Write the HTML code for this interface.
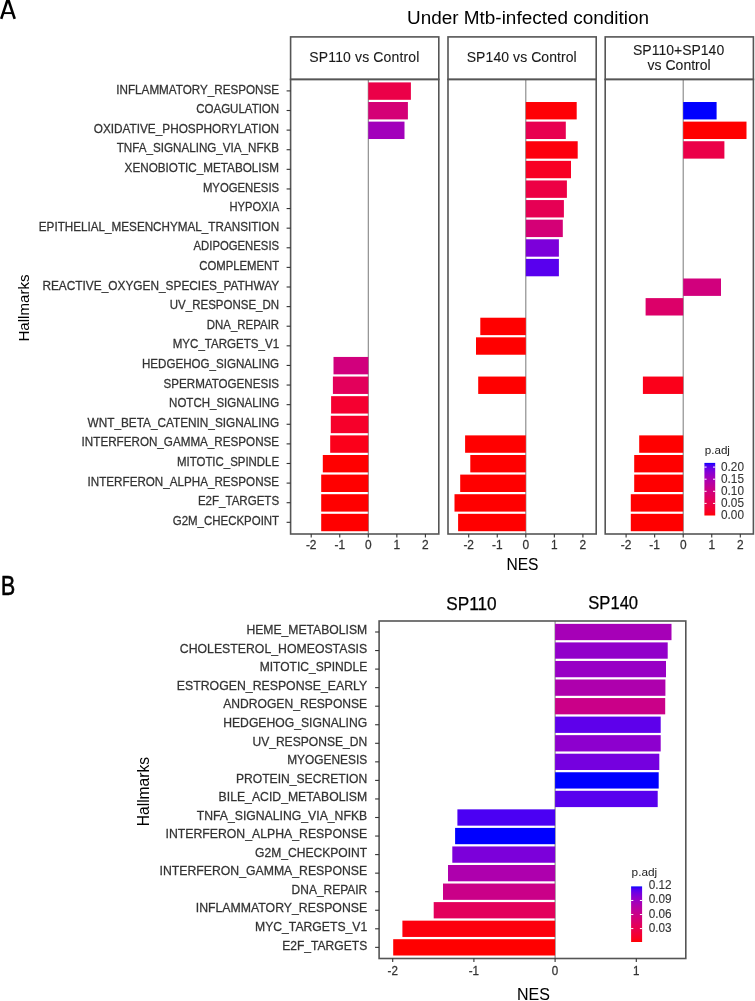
<!DOCTYPE html>
<html><head><meta charset="utf-8"><style>
html,body{margin:0;padding:0;background:#fff;width:755px;height:1001px;overflow:hidden}
svg{display:block;will-change:transform}
text{font-family:"Liberation Sans",sans-serif}
</style></head><body>
<svg width="755" height="1001" viewBox="0 0 755 1001">
<rect x="0" y="0" width="755" height="1001" fill="#fff"/>
<line x1="368.30" y1="79.40" x2="368.30" y2="534.00" stroke="#858585" stroke-width="1.1"/>
<rect x="368.30" y="82.40" width="42.60" height="17.40" fill="#eb0048"/>
<rect x="368.30" y="102.01" width="39.60" height="17.40" fill="#d40076"/>
<rect x="368.30" y="121.62" width="36.20" height="17.40" fill="#a200bb"/>
<rect x="333.50" y="356.94" width="34.80" height="17.40" fill="#d1007d"/>
<rect x="332.90" y="376.55" width="35.40" height="17.40" fill="#e3005b"/>
<rect x="331.10" y="396.16" width="37.20" height="17.40" fill="#f50030"/>
<rect x="330.80" y="415.77" width="37.50" height="17.40" fill="#f6002a"/>
<rect x="330.20" y="435.38" width="38.10" height="17.40" fill="#fb001a"/>
<rect x="322.80" y="454.99" width="45.50" height="17.40" fill="#ff0000"/>
<rect x="321.20" y="474.60" width="47.10" height="17.40" fill="#ff0000"/>
<rect x="321.20" y="494.21" width="47.10" height="17.40" fill="#ff0000"/>
<rect x="321.20" y="513.82" width="47.10" height="17.40" fill="#ff0000"/>
<rect x="290.60" y="36.90" width="148.20" height="42.50" fill="none" stroke="#555555" stroke-width="1.6"/>
<rect x="290.60" y="79.40" width="148.20" height="454.60" fill="none" stroke="#555555" stroke-width="1.6"/>
<line x1="311.20" y1="534.00" x2="311.20" y2="537.60" stroke="#333333" stroke-width="1.1"/>
<text x="0" y="0" transform="translate(311.20,549.20) scale(1,1.04)" font-size="11.9" fill="#333333" stroke="#333333" stroke-width="0.25" text-anchor="middle" >-2</text>
<line x1="339.75" y1="534.00" x2="339.75" y2="537.60" stroke="#333333" stroke-width="1.1"/>
<text x="0" y="0" transform="translate(339.75,549.20) scale(1,1.04)" font-size="11.9" fill="#333333" stroke="#333333" stroke-width="0.25" text-anchor="middle" >-1</text>
<line x1="368.30" y1="534.00" x2="368.30" y2="537.60" stroke="#333333" stroke-width="1.1"/>
<text x="0" y="0" transform="translate(368.30,549.20) scale(1,1.04)" font-size="11.9" fill="#333333" stroke="#333333" stroke-width="0.25" text-anchor="middle" >0</text>
<line x1="396.85" y1="534.00" x2="396.85" y2="537.60" stroke="#333333" stroke-width="1.1"/>
<text x="0" y="0" transform="translate(396.85,549.20) scale(1,1.04)" font-size="11.9" fill="#333333" stroke="#333333" stroke-width="0.25" text-anchor="middle" >1</text>
<line x1="425.40" y1="534.00" x2="425.40" y2="537.60" stroke="#333333" stroke-width="1.1"/>
<text x="0" y="0" transform="translate(425.40,549.20) scale(1,1.04)" font-size="11.9" fill="#333333" stroke="#333333" stroke-width="0.25" text-anchor="middle" >2</text>
<line x1="525.80" y1="79.40" x2="525.80" y2="534.00" stroke="#858585" stroke-width="1.1"/>
<rect x="525.80" y="102.01" width="50.90" height="17.40" fill="#fe0006"/>
<rect x="525.80" y="121.62" width="40.00" height="17.40" fill="#e80050"/>
<rect x="525.80" y="141.23" width="51.90" height="17.40" fill="#fd000d"/>
<rect x="525.80" y="160.84" width="45.20" height="17.40" fill="#f80024"/>
<rect x="525.80" y="180.45" width="41.10" height="17.40" fill="#ed0044"/>
<rect x="525.80" y="200.06" width="38.10" height="17.40" fill="#e60054"/>
<rect x="525.80" y="219.67" width="37.00" height="17.40" fill="#d40076"/>
<rect x="525.80" y="239.28" width="33.10" height="17.40" fill="#7c00da"/>
<rect x="525.80" y="258.89" width="33.10" height="17.40" fill="#5800ee"/>
<rect x="480.30" y="317.72" width="45.50" height="17.40" fill="#ff0000"/>
<rect x="476.00" y="337.33" width="49.80" height="17.40" fill="#ff0000"/>
<rect x="478.20" y="376.55" width="47.60" height="17.40" fill="#ff0000"/>
<rect x="465.10" y="435.38" width="60.70" height="17.40" fill="#ff0000"/>
<rect x="470.30" y="454.99" width="55.50" height="17.40" fill="#ff0000"/>
<rect x="460.20" y="474.60" width="65.60" height="17.40" fill="#ff0000"/>
<rect x="454.50" y="494.21" width="71.30" height="17.40" fill="#ff0000"/>
<rect x="458.10" y="513.82" width="67.70" height="17.40" fill="#ff0000"/>
<rect x="448.00" y="36.90" width="148.20" height="42.50" fill="none" stroke="#555555" stroke-width="1.6"/>
<rect x="448.00" y="79.40" width="148.20" height="454.60" fill="none" stroke="#555555" stroke-width="1.6"/>
<line x1="468.70" y1="534.00" x2="468.70" y2="537.60" stroke="#333333" stroke-width="1.1"/>
<text x="0" y="0" transform="translate(468.70,549.20) scale(1,1.04)" font-size="11.9" fill="#333333" stroke="#333333" stroke-width="0.25" text-anchor="middle" >-2</text>
<line x1="497.25" y1="534.00" x2="497.25" y2="537.60" stroke="#333333" stroke-width="1.1"/>
<text x="0" y="0" transform="translate(497.25,549.20) scale(1,1.04)" font-size="11.9" fill="#333333" stroke="#333333" stroke-width="0.25" text-anchor="middle" >-1</text>
<line x1="525.80" y1="534.00" x2="525.80" y2="537.60" stroke="#333333" stroke-width="1.1"/>
<text x="0" y="0" transform="translate(525.80,549.20) scale(1,1.04)" font-size="11.9" fill="#333333" stroke="#333333" stroke-width="0.25" text-anchor="middle" >0</text>
<line x1="554.35" y1="534.00" x2="554.35" y2="537.60" stroke="#333333" stroke-width="1.1"/>
<text x="0" y="0" transform="translate(554.35,549.20) scale(1,1.04)" font-size="11.9" fill="#333333" stroke="#333333" stroke-width="0.25" text-anchor="middle" >1</text>
<line x1="582.90" y1="534.00" x2="582.90" y2="537.60" stroke="#333333" stroke-width="1.1"/>
<text x="0" y="0" transform="translate(582.90,549.20) scale(1,1.04)" font-size="11.9" fill="#333333" stroke="#333333" stroke-width="0.25" text-anchor="middle" >2</text>
<line x1="683.20" y1="79.40" x2="683.20" y2="534.00" stroke="#858585" stroke-width="1.1"/>
<rect x="683.20" y="102.01" width="33.40" height="17.40" fill="#0000ff"/>
<rect x="683.20" y="121.62" width="63.30" height="17.40" fill="#ff0000"/>
<rect x="683.20" y="141.23" width="41.20" height="17.40" fill="#eb0048"/>
<rect x="683.20" y="278.50" width="37.80" height="17.40" fill="#d1007d"/>
<rect x="645.60" y="298.11" width="37.60" height="17.40" fill="#dc0069"/>
<rect x="642.90" y="376.55" width="40.30" height="17.40" fill="#fb001a"/>
<rect x="639.20" y="435.38" width="44.00" height="17.40" fill="#ff0000"/>
<rect x="634.20" y="454.99" width="49.00" height="17.40" fill="#ff0000"/>
<rect x="634.20" y="474.60" width="49.00" height="17.40" fill="#ff0000"/>
<rect x="630.80" y="494.21" width="52.40" height="17.40" fill="#ff0000"/>
<rect x="630.80" y="513.82" width="52.40" height="17.40" fill="#ff0000"/>
<rect x="605.20" y="36.90" width="148.20" height="42.50" fill="none" stroke="#555555" stroke-width="1.6"/>
<rect x="605.20" y="79.40" width="148.20" height="454.60" fill="none" stroke="#555555" stroke-width="1.6"/>
<line x1="626.10" y1="534.00" x2="626.10" y2="537.60" stroke="#333333" stroke-width="1.1"/>
<text x="0" y="0" transform="translate(626.10,549.20) scale(1,1.04)" font-size="11.9" fill="#333333" stroke="#333333" stroke-width="0.25" text-anchor="middle" >-2</text>
<line x1="654.65" y1="534.00" x2="654.65" y2="537.60" stroke="#333333" stroke-width="1.1"/>
<text x="0" y="0" transform="translate(654.65,549.20) scale(1,1.04)" font-size="11.9" fill="#333333" stroke="#333333" stroke-width="0.25" text-anchor="middle" >-1</text>
<line x1="683.20" y1="534.00" x2="683.20" y2="537.60" stroke="#333333" stroke-width="1.1"/>
<text x="0" y="0" transform="translate(683.20,549.20) scale(1,1.04)" font-size="11.9" fill="#333333" stroke="#333333" stroke-width="0.25" text-anchor="middle" >0</text>
<line x1="711.75" y1="534.00" x2="711.75" y2="537.60" stroke="#333333" stroke-width="1.1"/>
<text x="0" y="0" transform="translate(711.75,549.20) scale(1,1.04)" font-size="11.9" fill="#333333" stroke="#333333" stroke-width="0.25" text-anchor="middle" >1</text>
<line x1="740.30" y1="534.00" x2="740.30" y2="537.60" stroke="#333333" stroke-width="1.1"/>
<text x="0" y="0" transform="translate(740.30,549.20) scale(1,1.04)" font-size="11.9" fill="#333333" stroke="#333333" stroke-width="0.25" text-anchor="middle" >2</text>
<text x="0" y="0" transform="translate(364.30,61.60) scale(1,1.05)" font-size="14.0" fill="#1a1a1a" stroke="#1a1a1a" stroke-width="0.1" text-anchor="middle" textLength="110" lengthAdjust="spacing">SP110 vs Control</text>
<text x="0" y="0" transform="translate(521.70,61.60) scale(1,1.05)" font-size="14.0" fill="#1a1a1a" stroke="#1a1a1a" stroke-width="0.1" text-anchor="middle" textLength="110" lengthAdjust="spacing">SP140 vs Control</text>
<text x="0" y="0" transform="translate(678.60,54.90) scale(1,1.05)" font-size="14.0" fill="#1a1a1a" stroke="#1a1a1a" stroke-width="0.1" text-anchor="middle" >SP110+SP140</text>
<text x="0" y="0" transform="translate(679.10,69.70) scale(1,1.05)" font-size="14.0" fill="#1a1a1a" stroke="#1a1a1a" stroke-width="0.1" text-anchor="middle" >vs Control</text>
<line x1="286.60" y1="90.90" x2="290.60" y2="90.90" stroke="#333333" stroke-width="1.1"/>
<text x="0" y="0" transform="translate(279.10,93.50) scale(1,1.05)" font-size="11.63" fill="#333333" stroke="#333333" stroke-width="0.25" text-anchor="end" textLength="162.80" lengthAdjust="spacingAndGlyphs">INFLAMMATORY_RESPONSE</text>
<line x1="286.60" y1="110.51" x2="290.60" y2="110.51" stroke="#333333" stroke-width="1.1"/>
<text x="0" y="0" transform="translate(279.10,113.11) scale(1,1.05)" font-size="11.63" fill="#333333" stroke="#333333" stroke-width="0.25" text-anchor="end" textLength="82.90" lengthAdjust="spacingAndGlyphs">COAGULATION</text>
<line x1="286.60" y1="130.12" x2="290.60" y2="130.12" stroke="#333333" stroke-width="1.1"/>
<text x="0" y="0" transform="translate(279.10,132.72) scale(1,1.05)" font-size="11.63" fill="#333333" stroke="#333333" stroke-width="0.25" text-anchor="end" textLength="185.40" lengthAdjust="spacingAndGlyphs">OXIDATIVE_PHOSPHORYLATION</text>
<line x1="286.60" y1="149.73" x2="290.60" y2="149.73" stroke="#333333" stroke-width="1.1"/>
<text x="0" y="0" transform="translate(279.10,152.33) scale(1,1.05)" font-size="11.63" fill="#333333" stroke="#333333" stroke-width="0.25" text-anchor="end" textLength="162.40" lengthAdjust="spacingAndGlyphs">TNFA_SIGNALING_VIA_NFKB</text>
<line x1="286.60" y1="169.34" x2="290.60" y2="169.34" stroke="#333333" stroke-width="1.1"/>
<text x="0" y="0" transform="translate(279.10,171.94) scale(1,1.05)" font-size="11.63" fill="#333333" stroke="#333333" stroke-width="0.25" text-anchor="end" textLength="154.50" lengthAdjust="spacingAndGlyphs">XENOBIOTIC_METABOLISM</text>
<line x1="286.60" y1="188.95" x2="290.60" y2="188.95" stroke="#333333" stroke-width="1.1"/>
<text x="0" y="0" transform="translate(279.10,191.55) scale(1,1.05)" font-size="11.63" fill="#333333" stroke="#333333" stroke-width="0.25" text-anchor="end" textLength="76.20" lengthAdjust="spacingAndGlyphs">MYOGENESIS</text>
<line x1="286.60" y1="208.56" x2="290.60" y2="208.56" stroke="#333333" stroke-width="1.1"/>
<text x="0" y="0" transform="translate(279.10,211.16) scale(1,1.05)" font-size="11.63" fill="#333333" stroke="#333333" stroke-width="0.25" text-anchor="end" textLength="49.64" lengthAdjust="spacingAndGlyphs">HYPOXIA</text>
<line x1="286.60" y1="228.17" x2="290.60" y2="228.17" stroke="#333333" stroke-width="1.1"/>
<text x="0" y="0" transform="translate(279.10,230.77) scale(1,1.05)" font-size="11.63" fill="#333333" stroke="#333333" stroke-width="0.25" text-anchor="end" textLength="240.30" lengthAdjust="spacingAndGlyphs">EPITHELIAL_MESENCHYMAL_TRANSITION</text>
<line x1="286.60" y1="247.78" x2="290.60" y2="247.78" stroke="#333333" stroke-width="1.1"/>
<text x="0" y="0" transform="translate(279.10,250.38) scale(1,1.05)" font-size="11.63" fill="#333333" stroke="#333333" stroke-width="0.25" text-anchor="end" textLength="85.60" lengthAdjust="spacingAndGlyphs">ADIPOGENESIS</text>
<line x1="286.60" y1="267.39" x2="290.60" y2="267.39" stroke="#333333" stroke-width="1.1"/>
<text x="0" y="0" transform="translate(279.10,269.99) scale(1,1.05)" font-size="11.63" fill="#333333" stroke="#333333" stroke-width="0.25" text-anchor="end" textLength="79.90" lengthAdjust="spacingAndGlyphs">COMPLEMENT</text>
<line x1="286.60" y1="287.00" x2="290.60" y2="287.00" stroke="#333333" stroke-width="1.1"/>
<text x="0" y="0" transform="translate(279.10,289.60) scale(1,1.05)" font-size="11.63" fill="#333333" stroke="#333333" stroke-width="0.25" text-anchor="end" textLength="236.70" lengthAdjust="spacingAndGlyphs">REACTIVE_OXYGEN_SPECIES_PATHWAY</text>
<line x1="286.60" y1="306.61" x2="290.60" y2="306.61" stroke="#333333" stroke-width="1.1"/>
<text x="0" y="0" transform="translate(279.10,309.21) scale(1,1.05)" font-size="11.63" fill="#333333" stroke="#333333" stroke-width="0.25" text-anchor="end" textLength="109.30" lengthAdjust="spacingAndGlyphs">UV_RESPONSE_DN</text>
<line x1="286.60" y1="326.22" x2="290.60" y2="326.22" stroke="#333333" stroke-width="1.1"/>
<text x="0" y="0" transform="translate(279.10,328.82) scale(1,1.05)" font-size="11.63" fill="#333333" stroke="#333333" stroke-width="0.25" text-anchor="end" textLength="72.30" lengthAdjust="spacingAndGlyphs">DNA_REPAIR</text>
<line x1="286.60" y1="345.83" x2="290.60" y2="345.83" stroke="#333333" stroke-width="1.1"/>
<text x="0" y="0" transform="translate(279.10,348.43) scale(1,1.05)" font-size="11.63" fill="#333333" stroke="#333333" stroke-width="0.25" text-anchor="end" textLength="106.40" lengthAdjust="spacingAndGlyphs">MYC_TARGETS_V1</text>
<line x1="286.60" y1="365.44" x2="290.60" y2="365.44" stroke="#333333" stroke-width="1.1"/>
<text x="0" y="0" transform="translate(279.10,368.04) scale(1,1.05)" font-size="11.63" fill="#333333" stroke="#333333" stroke-width="0.25" text-anchor="end" textLength="137.10" lengthAdjust="spacingAndGlyphs">HEDGEHOG_SIGNALING</text>
<line x1="286.60" y1="385.05" x2="290.60" y2="385.05" stroke="#333333" stroke-width="1.1"/>
<text x="0" y="0" transform="translate(279.10,387.65) scale(1,1.05)" font-size="11.63" fill="#333333" stroke="#333333" stroke-width="0.25" text-anchor="end" textLength="115.50" lengthAdjust="spacingAndGlyphs">SPERMATOGENESIS</text>
<line x1="286.60" y1="404.66" x2="290.60" y2="404.66" stroke="#333333" stroke-width="1.1"/>
<text x="0" y="0" transform="translate(279.10,407.26) scale(1,1.05)" font-size="11.63" fill="#333333" stroke="#333333" stroke-width="0.25" text-anchor="end" textLength="110.00" lengthAdjust="spacingAndGlyphs">NOTCH_SIGNALING</text>
<line x1="286.60" y1="424.27" x2="290.60" y2="424.27" stroke="#333333" stroke-width="1.1"/>
<text x="0" y="0" transform="translate(279.10,426.87) scale(1,1.05)" font-size="11.63" fill="#333333" stroke="#333333" stroke-width="0.25" text-anchor="end" textLength="191.50" lengthAdjust="spacingAndGlyphs">WNT_BETA_CATENIN_SIGNALING</text>
<line x1="286.60" y1="443.88" x2="290.60" y2="443.88" stroke="#333333" stroke-width="1.1"/>
<text x="0" y="0" transform="translate(279.10,446.48) scale(1,1.05)" font-size="11.63" fill="#333333" stroke="#333333" stroke-width="0.25" text-anchor="end" textLength="197.50" lengthAdjust="spacingAndGlyphs">INTERFERON_GAMMA_RESPONSE</text>
<line x1="286.60" y1="463.49" x2="290.60" y2="463.49" stroke="#333333" stroke-width="1.1"/>
<text x="0" y="0" transform="translate(279.10,466.09) scale(1,1.05)" font-size="11.63" fill="#333333" stroke="#333333" stroke-width="0.25" text-anchor="end" textLength="102.10" lengthAdjust="spacingAndGlyphs">MITOTIC_SPINDLE</text>
<line x1="286.60" y1="483.10" x2="290.60" y2="483.10" stroke="#333333" stroke-width="1.1"/>
<text x="0" y="0" transform="translate(279.10,485.70) scale(1,1.05)" font-size="11.63" fill="#333333" stroke="#333333" stroke-width="0.25" text-anchor="end" textLength="191.50" lengthAdjust="spacingAndGlyphs">INTERFERON_ALPHA_RESPONSE</text>
<line x1="286.60" y1="502.71" x2="290.60" y2="502.71" stroke="#333333" stroke-width="1.1"/>
<text x="0" y="0" transform="translate(279.10,505.31) scale(1,1.05)" font-size="11.63" fill="#333333" stroke="#333333" stroke-width="0.25" text-anchor="end" textLength="81.20" lengthAdjust="spacingAndGlyphs">E2F_TARGETS</text>
<line x1="286.60" y1="522.32" x2="290.60" y2="522.32" stroke="#333333" stroke-width="1.1"/>
<text x="0" y="0" transform="translate(279.10,524.92) scale(1,1.05)" font-size="11.63" fill="#333333" stroke="#333333" stroke-width="0.25" text-anchor="end" textLength="106.40" lengthAdjust="spacingAndGlyphs">G2M_CHECKPOINT</text>
<text x="0" y="0" transform="translate(522.50,569.80) scale(1,1.04)" font-size="15.6" fill="#000" stroke="#000" stroke-width="0.05" text-anchor="middle" >NES</text>
<text x="0" y="0" font-size="15.1" fill="#000" text-anchor="middle" transform="translate(28.8,308) rotate(-90)">Hallmarks</text>
<text x="407.00" y="23.80" font-size="18.7" fill="#000" text-anchor="start" textLength="242" lengthAdjust="spacingAndGlyphs">Under Mtb-infected condition</text>
<g stroke="#000" fill="none"><line x1="1.2" y1="18.9" x2="7.9" y2="-1.2" stroke-width="2.6"/><line x1="14.7" y1="18.9" x2="8.0" y2="-1.2" stroke-width="2.6"/><line x1="3.4" y1="13.1" x2="12.5" y2="13.1" stroke-width="1.9"/></g>
<defs><linearGradient id="gA" x1="0" y1="1" x2="0" y2="0"><stop offset="0.000" stop-color="#ff0000"/><stop offset="0.025" stop-color="#fd000f"/><stop offset="0.050" stop-color="#fb001a"/><stop offset="0.075" stop-color="#f90023"/><stop offset="0.100" stop-color="#f6002a"/><stop offset="0.125" stop-color="#f40031"/><stop offset="0.150" stop-color="#f20037"/><stop offset="0.175" stop-color="#ef003e"/><stop offset="0.200" stop-color="#ed0044"/><stop offset="0.225" stop-color="#eb004a"/><stop offset="0.250" stop-color="#e80050"/><stop offset="0.275" stop-color="#e50055"/><stop offset="0.300" stop-color="#e3005b"/><stop offset="0.325" stop-color="#e00061"/><stop offset="0.350" stop-color="#dd0066"/><stop offset="0.375" stop-color="#da006c"/><stop offset="0.400" stop-color="#d70072"/><stop offset="0.425" stop-color="#d40077"/><stop offset="0.450" stop-color="#d1007d"/><stop offset="0.475" stop-color="#cd0083"/><stop offset="0.500" stop-color="#ca0088"/><stop offset="0.525" stop-color="#c6008e"/><stop offset="0.550" stop-color="#c20094"/><stop offset="0.575" stop-color="#be009a"/><stop offset="0.600" stop-color="#ba009f"/><stop offset="0.625" stop-color="#b500a5"/><stop offset="0.650" stop-color="#b000ab"/><stop offset="0.675" stop-color="#ab00b1"/><stop offset="0.700" stop-color="#a600b7"/><stop offset="0.725" stop-color="#a000bd"/><stop offset="0.750" stop-color="#9a00c3"/><stop offset="0.775" stop-color="#9400c8"/><stop offset="0.800" stop-color="#8d00ce"/><stop offset="0.825" stop-color="#8500d4"/><stop offset="0.850" stop-color="#7c00da"/><stop offset="0.875" stop-color="#7300e0"/><stop offset="0.900" stop-color="#6800e7"/><stop offset="0.925" stop-color="#5b00ed"/><stop offset="0.950" stop-color="#4b00f3"/><stop offset="0.975" stop-color="#3500f9"/><stop offset="1.000" stop-color="#0000ff"/></linearGradient></defs>
<rect x="704.4" y="462.9" width="10.8" height="52.60" fill="url(#gA)"/>
<text x="0" y="0" transform="translate(721.00,519.10) scale(1,1.08)" font-size="11.8" fill="#333333" stroke="#333333" stroke-width="0.1" text-anchor="start" >0.00</text>
<line x1="704.40" y1="503.40" x2="706.60" y2="503.40" stroke="#ffffff" stroke-width="1"/>
<line x1="713.00" y1="503.40" x2="715.20" y2="503.40" stroke="#ffffff" stroke-width="1"/>
<text x="0" y="0" transform="translate(721.00,507.00) scale(1,1.08)" font-size="11.8" fill="#333333" stroke="#333333" stroke-width="0.1" text-anchor="start" >0.05</text>
<line x1="704.40" y1="491.30" x2="706.60" y2="491.30" stroke="#ffffff" stroke-width="1"/>
<line x1="713.00" y1="491.30" x2="715.20" y2="491.30" stroke="#ffffff" stroke-width="1"/>
<text x="0" y="0" transform="translate(721.00,494.90) scale(1,1.08)" font-size="11.8" fill="#333333" stroke="#333333" stroke-width="0.1" text-anchor="start" >0.10</text>
<line x1="704.40" y1="479.20" x2="706.60" y2="479.20" stroke="#ffffff" stroke-width="1"/>
<line x1="713.00" y1="479.20" x2="715.20" y2="479.20" stroke="#ffffff" stroke-width="1"/>
<text x="0" y="0" transform="translate(721.00,482.80) scale(1,1.08)" font-size="11.8" fill="#333333" stroke="#333333" stroke-width="0.1" text-anchor="start" >0.15</text>
<line x1="704.40" y1="467.10" x2="706.60" y2="467.10" stroke="#ffffff" stroke-width="1"/>
<line x1="713.00" y1="467.10" x2="715.20" y2="467.10" stroke="#ffffff" stroke-width="1"/>
<text x="0" y="0" transform="translate(721.00,470.70) scale(1,1.08)" font-size="11.8" fill="#333333" stroke="#333333" stroke-width="0.1" text-anchor="start" >0.20</text>
<text x="704.80" y="454.00" font-size="11.6" fill="#222" text-anchor="start" >p.adj</text>
<line x1="555.10" y1="621.00" x2="555.10" y2="958.50" stroke="#858585" stroke-width="1.1"/>
<rect x="555.10" y="623.85" width="116.40" height="16.30" fill="#a600b7"/>
<rect x="555.10" y="642.40" width="112.60" height="16.30" fill="#9200ca"/>
<rect x="555.10" y="660.95" width="110.90" height="16.30" fill="#9800c5"/>
<rect x="555.10" y="679.50" width="110.30" height="16.30" fill="#ae00ad"/>
<rect x="555.10" y="698.05" width="110.10" height="16.30" fill="#ca0088"/>
<rect x="555.10" y="716.60" width="105.60" height="16.30" fill="#5e00eb"/>
<rect x="555.10" y="735.15" width="105.60" height="16.30" fill="#8d00ce"/>
<rect x="555.10" y="753.70" width="104.20" height="16.30" fill="#7500df"/>
<rect x="555.10" y="772.25" width="103.60" height="16.30" fill="#0000ff"/>
<rect x="555.10" y="790.80" width="102.60" height="16.30" fill="#5800ee"/>
<rect x="457.40" y="809.35" width="97.70" height="16.30" fill="#4b00f3"/>
<rect x="455.10" y="827.90" width="100.00" height="16.30" fill="#0000ff"/>
<rect x="452.30" y="846.45" width="102.80" height="16.30" fill="#7c00da"/>
<rect x="448.00" y="865.00" width="107.10" height="16.30" fill="#ae00ad"/>
<rect x="443.00" y="883.55" width="112.10" height="16.30" fill="#ca0088"/>
<rect x="433.70" y="902.10" width="121.40" height="16.30" fill="#e3005b"/>
<rect x="402.40" y="920.65" width="152.70" height="16.30" fill="#fd000d"/>
<rect x="393.20" y="939.20" width="161.90" height="16.30" fill="#ff0000"/>
<rect x="379.10" y="621.00" width="306.70" height="337.50" fill="none" stroke="#555555" stroke-width="1.6"/>
<line x1="375.10" y1="632.00" x2="379.10" y2="632.00" stroke="#333333" stroke-width="1.1"/>
<text x="0" y="0" transform="translate(367.20,634.20) scale(1,1.05)" font-size="12.2" fill="#333333" stroke="#333333" stroke-width="0.25" text-anchor="end" textLength="120.80" lengthAdjust="spacingAndGlyphs">HEME_METABOLISM</text>
<line x1="375.10" y1="650.55" x2="379.10" y2="650.55" stroke="#333333" stroke-width="1.1"/>
<text x="0" y="0" transform="translate(367.20,652.75) scale(1,1.05)" font-size="12.2" fill="#333333" stroke="#333333" stroke-width="0.25" text-anchor="end" textLength="187.40" lengthAdjust="spacingAndGlyphs">CHOLESTEROL_HOMEOSTASIS</text>
<line x1="375.10" y1="669.10" x2="379.10" y2="669.10" stroke="#333333" stroke-width="1.1"/>
<text x="0" y="0" transform="translate(367.20,671.30) scale(1,1.05)" font-size="12.2" fill="#333333" stroke="#333333" stroke-width="0.25" text-anchor="end" textLength="107.50" lengthAdjust="spacingAndGlyphs">MITOTIC_SPINDLE</text>
<line x1="375.10" y1="687.65" x2="379.10" y2="687.65" stroke="#333333" stroke-width="1.1"/>
<text x="0" y="0" transform="translate(367.20,689.85) scale(1,1.05)" font-size="12.2" fill="#333333" stroke="#333333" stroke-width="0.25" text-anchor="end" textLength="190.40" lengthAdjust="spacingAndGlyphs">ESTROGEN_RESPONSE_EARLY</text>
<line x1="375.10" y1="706.20" x2="379.10" y2="706.20" stroke="#333333" stroke-width="1.1"/>
<text x="0" y="0" transform="translate(367.20,708.40) scale(1,1.05)" font-size="12.2" fill="#333333" stroke="#333333" stroke-width="0.25" text-anchor="end" textLength="144.00" lengthAdjust="spacingAndGlyphs">ANDROGEN_RESPONSE</text>
<line x1="375.10" y1="724.75" x2="379.10" y2="724.75" stroke="#333333" stroke-width="1.1"/>
<text x="0" y="0" transform="translate(367.20,726.95) scale(1,1.05)" font-size="12.2" fill="#333333" stroke="#333333" stroke-width="0.25" text-anchor="end" textLength="144.00" lengthAdjust="spacingAndGlyphs">HEDGEHOG_SIGNALING</text>
<line x1="375.10" y1="743.30" x2="379.10" y2="743.30" stroke="#333333" stroke-width="1.1"/>
<text x="0" y="0" transform="translate(367.20,745.50) scale(1,1.05)" font-size="12.2" fill="#333333" stroke="#333333" stroke-width="0.25" text-anchor="end" textLength="114.80" lengthAdjust="spacingAndGlyphs">UV_RESPONSE_DN</text>
<line x1="375.10" y1="761.85" x2="379.10" y2="761.85" stroke="#333333" stroke-width="1.1"/>
<text x="0" y="0" transform="translate(367.20,764.05) scale(1,1.05)" font-size="12.2" fill="#333333" stroke="#333333" stroke-width="0.25" text-anchor="end" textLength="80.00" lengthAdjust="spacingAndGlyphs">MYOGENESIS</text>
<line x1="375.10" y1="780.40" x2="379.10" y2="780.40" stroke="#333333" stroke-width="1.1"/>
<text x="0" y="0" transform="translate(367.20,782.60) scale(1,1.05)" font-size="12.2" fill="#333333" stroke="#333333" stroke-width="0.25" text-anchor="end" textLength="131.30" lengthAdjust="spacingAndGlyphs">PROTEIN_SECRETION</text>
<line x1="375.10" y1="798.95" x2="379.10" y2="798.95" stroke="#333333" stroke-width="1.1"/>
<text x="0" y="0" transform="translate(367.20,801.15) scale(1,1.05)" font-size="12.2" fill="#333333" stroke="#333333" stroke-width="0.25" text-anchor="end" textLength="148.60" lengthAdjust="spacingAndGlyphs">BILE_ACID_METABOLISM</text>
<line x1="375.10" y1="817.50" x2="379.10" y2="817.50" stroke="#333333" stroke-width="1.1"/>
<text x="0" y="0" transform="translate(367.20,819.70) scale(1,1.05)" font-size="12.2" fill="#333333" stroke="#333333" stroke-width="0.25" text-anchor="end" textLength="170.50" lengthAdjust="spacingAndGlyphs">TNFA_SIGNALING_VIA_NFKB</text>
<line x1="375.10" y1="836.05" x2="379.10" y2="836.05" stroke="#333333" stroke-width="1.1"/>
<text x="0" y="0" transform="translate(367.20,838.25) scale(1,1.05)" font-size="12.2" fill="#333333" stroke="#333333" stroke-width="0.25" text-anchor="end" textLength="201.70" lengthAdjust="spacingAndGlyphs">INTERFERON_ALPHA_RESPONSE</text>
<line x1="375.10" y1="854.60" x2="379.10" y2="854.60" stroke="#333333" stroke-width="1.1"/>
<text x="0" y="0" transform="translate(367.20,856.80) scale(1,1.05)" font-size="12.2" fill="#333333" stroke="#333333" stroke-width="0.25" text-anchor="end" textLength="112.20" lengthAdjust="spacingAndGlyphs">G2M_CHECKPOINT</text>
<line x1="375.10" y1="873.15" x2="379.10" y2="873.15" stroke="#333333" stroke-width="1.1"/>
<text x="0" y="0" transform="translate(367.20,875.35) scale(1,1.05)" font-size="12.2" fill="#333333" stroke="#333333" stroke-width="0.25" text-anchor="end" textLength="207.70" lengthAdjust="spacingAndGlyphs">INTERFERON_GAMMA_RESPONSE</text>
<line x1="375.10" y1="891.70" x2="379.10" y2="891.70" stroke="#333333" stroke-width="1.1"/>
<text x="0" y="0" transform="translate(367.20,893.90) scale(1,1.05)" font-size="12.2" fill="#333333" stroke="#333333" stroke-width="0.25" text-anchor="end" textLength="75.60" lengthAdjust="spacingAndGlyphs">DNA_REPAIR</text>
<line x1="375.10" y1="910.25" x2="379.10" y2="910.25" stroke="#333333" stroke-width="1.1"/>
<text x="0" y="0" transform="translate(367.20,912.45) scale(1,1.05)" font-size="12.2" fill="#333333" stroke="#333333" stroke-width="0.25" text-anchor="end" textLength="171.50" lengthAdjust="spacingAndGlyphs">INFLAMMATORY_RESPONSE</text>
<line x1="375.10" y1="928.80" x2="379.10" y2="928.80" stroke="#333333" stroke-width="1.1"/>
<text x="0" y="0" transform="translate(367.20,931.00) scale(1,1.05)" font-size="12.2" fill="#333333" stroke="#333333" stroke-width="0.25" text-anchor="end" textLength="112.20" lengthAdjust="spacingAndGlyphs">MYC_TARGETS_V1</text>
<line x1="375.10" y1="947.35" x2="379.10" y2="947.35" stroke="#333333" stroke-width="1.1"/>
<text x="0" y="0" transform="translate(367.20,949.55) scale(1,1.05)" font-size="12.2" fill="#333333" stroke="#333333" stroke-width="0.25" text-anchor="end" textLength="85.00" lengthAdjust="spacingAndGlyphs">E2F_TARGETS</text>
<line x1="392.70" y1="958.50" x2="392.70" y2="962.10" stroke="#333333" stroke-width="1.1"/>
<text x="0" y="0" transform="translate(392.70,974.90) scale(1,1.04)" font-size="11.6" fill="#333333" stroke="#333333" stroke-width="0.25" text-anchor="middle" >-2</text>
<line x1="473.90" y1="958.50" x2="473.90" y2="962.10" stroke="#333333" stroke-width="1.1"/>
<text x="0" y="0" transform="translate(473.90,974.90) scale(1,1.04)" font-size="11.6" fill="#333333" stroke="#333333" stroke-width="0.25" text-anchor="middle" >-1</text>
<line x1="555.10" y1="958.50" x2="555.10" y2="962.10" stroke="#333333" stroke-width="1.1"/>
<text x="0" y="0" transform="translate(555.10,974.90) scale(1,1.04)" font-size="11.6" fill="#333333" stroke="#333333" stroke-width="0.25" text-anchor="middle" >0</text>
<line x1="636.30" y1="958.50" x2="636.30" y2="962.10" stroke="#333333" stroke-width="1.1"/>
<text x="0" y="0" transform="translate(636.30,974.90) scale(1,1.04)" font-size="11.6" fill="#333333" stroke="#333333" stroke-width="0.25" text-anchor="middle" >1</text>
<text x="0" y="0" transform="translate(533.40,999.60) scale(1,1.04)" font-size="16.0" fill="#000" stroke="#000" stroke-width="0.05" text-anchor="middle" >NES</text>
<text x="0" y="0" font-size="15.6" fill="#000" text-anchor="middle" transform="translate(149.0,791.6) rotate(-90)">Hallmarks</text>
<text x="446.20" y="610.00" font-size="17.5" fill="#000" stroke="#000" stroke-width="0.25" text-anchor="start" textLength="50.4" lengthAdjust="spacingAndGlyphs">SP110</text>
<text x="588.30" y="609.30" font-size="17.5" fill="#000" stroke="#000" stroke-width="0.25" text-anchor="start" textLength="49.8" lengthAdjust="spacingAndGlyphs">SP140</text>
<text x="1.00" y="595.20" font-size="27.0" fill="#000" stroke="#000" stroke-width="0.7" text-anchor="start" textLength="14.2" lengthAdjust="spacingAndGlyphs">B</text>
<rect x="631.1" y="886.4" width="11" height="55.60" fill="url(#gA)"/>
<line x1="631.10" y1="928.59" x2="633.30" y2="928.59" stroke="#ffffff" stroke-width="1"/>
<line x1="639.90" y1="928.59" x2="642.10" y2="928.59" stroke="#ffffff" stroke-width="1"/>
<text x="0" y="0" transform="translate(648.70,931.59) scale(1,1.1)" font-size="11.8" fill="#333333" stroke="#333333" stroke-width="0.1" text-anchor="start" >0.03</text>
<line x1="631.10" y1="914.53" x2="633.30" y2="914.53" stroke="#ffffff" stroke-width="1"/>
<line x1="639.90" y1="914.53" x2="642.10" y2="914.53" stroke="#ffffff" stroke-width="1"/>
<text x="0" y="0" transform="translate(648.70,917.53) scale(1,1.1)" font-size="11.8" fill="#333333" stroke="#333333" stroke-width="0.1" text-anchor="start" >0.06</text>
<line x1="631.10" y1="900.46" x2="633.30" y2="900.46" stroke="#ffffff" stroke-width="1"/>
<line x1="639.90" y1="900.46" x2="642.10" y2="900.46" stroke="#ffffff" stroke-width="1"/>
<text x="0" y="0" transform="translate(648.70,903.46) scale(1,1.1)" font-size="11.8" fill="#333333" stroke="#333333" stroke-width="0.1" text-anchor="start" >0.09</text>
<text x="0" y="0" transform="translate(648.70,889.40) scale(1,1.1)" font-size="11.8" fill="#333333" stroke="#333333" stroke-width="0.1" text-anchor="start" >0.12</text>
<text x="631.60" y="875.60" font-size="11.8" fill="#222" text-anchor="start" >p.adj</text>
</svg>
</body></html>
